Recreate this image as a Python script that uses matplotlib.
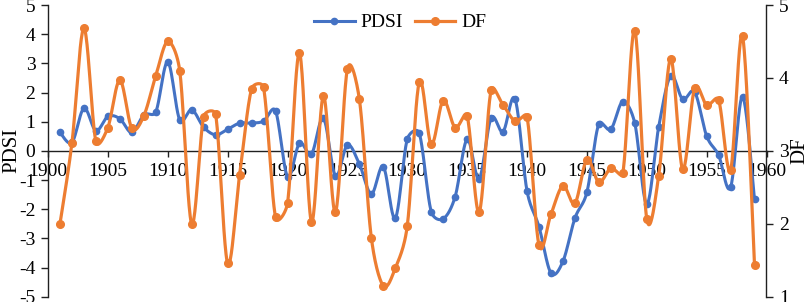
import numpy as np
import matplotlib.pyplot as plt
from matplotlib.lines import Line2D

# Datos (1901-1959)
años = list(range(1901, 1960))

pdsi = [0.63, 0.29, 1.46, 0.69, 1.18, 1.10, 0.63, 1.23, 1.33, 3.05,
        1.06, 1.41, 0.81, 0.55, 0.74, 0.95, 0.95, 1.02, 1.37, -0.88,
        0.26, -0.11, 1.12, -0.86, 0.20, -0.45, -1.48, -0.54, -2.31, 0.40,
        0.61, -2.08, -2.33, -1.57, 0.40, -0.96, 1.12, 0.66, 1.78, -1.37,
        -2.60, -4.19, -3.79, -2.31, -1.42, 0.93, 0.74, 1.69, 0.95, -1.82,
        0.83, 2.57, 1.77, 2.02, 0.51, -0.15, -1.25, 1.86, -1.66]

df = [2.00, 3.11, 4.68, 3.13, 3.32, 3.97, 3.31, 3.48, 4.03, 4.50,
      4.10, 2.00, 3.47, 3.50, 1.46, 2.67, 3.85, 3.87, 2.09, 2.28,
      4.34, 2.03, 3.75, 2.16, 4.12, 3.71, 1.81, 1.15, 1.39, 1.97,
      3.94, 3.09, 3.69, 3.32, 3.48, 2.16, 3.83, 3.63, 3.41, 3.47,
      1.71, 2.13, 2.52, 2.28, 2.88, 2.57, 2.76, 2.69, 4.65, 2.07,
      2.66, 4.26, 2.75, 3.86, 3.63, 3.70, 2.74, 4.57, 1.43]

ticks_x = list(range(1900, 1961, 5))
ticks_pdsi = list(range(-5, 6))
ticks_df = [1, 2, 3, 4, 5]

azul = '#4472C4'
naranja = '#ED7D31'

plt.rcParams['font.family'] = 'serif'
plt.rcParams['font.serif'] = ['Liberation Serif', 'DejaVu Serif']
plt.rcParams['axes.unicode_minus'] = False


# Curva suavizada parecida a la de Excel: Bezier con puntos de control
# a 1/6, recortados cuando el tramo es corto. Se calcula en pixeles.
def suavizar(x, y, esc_x, esc_y, n=24):
    x = np.asarray(x, float) * esc_x
    y = np.asarray(y, float) * esc_y
    P = np.column_stack([x, y])
    xs, ys = [], []
    for i in range(len(P) - 1):
        a = max(i - 1, 0)
        b = min(i + 2, len(P) - 1)
        largo = np.hypot(*(P[i + 1] - P[i]))
        v1 = (P[i + 1] - P[a]) / 6
        v2 = (P[b] - P[i]) / 6
        for v in (v1, v2):
            n_v = np.hypot(*v)
            if n_v > largo / 2 and n_v > 0:
                v *= (largo / 2) / n_v
        c1 = P[i] + v1
        c2 = P[i + 1] - v2
        t = np.linspace(0, 1, n)[:, None]
        B = ((1 - t) ** 3 * P[i] + 3 * (1 - t) ** 2 * t * c1
             + 3 * (1 - t) * t ** 2 * c2 + t ** 3 * P[i + 1])
        xs.extend(B[:, 0] / esc_x)
        ys.extend(B[:, 1] / esc_y)
    return xs, ys


fig = plt.figure(figsize=(8.09, 3.02), dpi=100)
ax = fig.add_axes([48 / 809, 5.3 / 302, 718.5 / 809, 291.7 / 302])
ax2 = ax.twinx()

# escalas en pixeles por unidad
px_año = 718.5 / 60
px_pdsi = 291.7 / 10
px_df = 291.7 / 4

# PDSI en el eje izquierdo
sx, sy = suavizar(años, pdsi, px_año, px_pdsi)
ax.plot(sx, sy, color=azul, lw=2.2, zorder=3)
ax.plot(años, pdsi, 'o', color=azul, ms=4.5, zorder=4)

# DF en el eje derecho
sx, sy = suavizar(años, df, px_año, px_df)
ax2.plot(sx, sy, color=naranja, lw=2.3, zorder=3)
ax2.plot(años, df, 'o', color=naranja, ms=5.5, zorder=4)

ax.set_xlim(1900, 1960)
ax.set_ylim(-5, 5)
ax2.set_ylim(1, 5)
ax.set_xticks(ticks_x)
ax.set_yticks(ticks_pdsi)
ax2.set_yticks(ticks_df)

for s in ['top', 'right']:
    ax.spines[s].set_visible(False)
for s in ['top', 'left', 'bottom']:
    ax2.spines[s].set_visible(False)
ax.spines['bottom'].set_position(('data', 0))
for s in [ax.spines['left'], ax.spines['bottom'], ax2.spines['right']]:
    s.set_color('#202020')
    s.set_linewidth(1.0)

ax.tick_params(axis='x', direction='out', length=4, width=1, pad=5,
               labelsize=14, color='#202020')
ax.tick_params(axis='y', direction='out', length=5, width=1, pad=4,
               labelsize=14, color='#202020')
ax2.tick_params(axis='y', direction='out', length=5, width=1, pad=4,
                labelsize=14, color='#202020')

ax.set_ylabel('PDSI', fontsize=15)
ax.yaxis.set_label_coords(-0.037, 0.5)
ax2.set_ylabel('DF', fontsize=15)
ax2.yaxis.set_label_coords(1.033, 0.5)

ax.patch.set_visible(False)

manijas = [Line2D([], [], color=azul, lw=2.2, marker='o', ms=4.5),
           Line2D([], [], color=naranja, lw=2.3, marker='o', ms=5.5)]
ax2.legend(manijas, ['PDSI', 'DF'], loc='upper center', ncol=2,
           bbox_to_anchor=(0.49, 1.03), frameon=False, fontsize=14,
           handlelength=2.1, handletextpad=0.3, columnspacing=0.6)

fig.savefig('out.png', dpi=100)
